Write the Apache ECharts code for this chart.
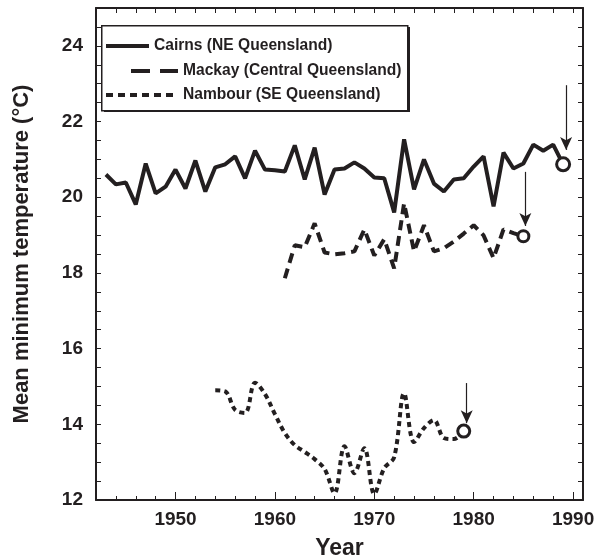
<!DOCTYPE html>
<html>
<head>
<meta charset="utf-8">
<script src="https://cdn.jsdelivr.net/npm/echarts@6/dist/echarts.min.js"></script>
<style>
  html, body { margin: 0; padding: 0; background: #fff; }
  #chart { width: 608px; height: 560px; }
</style>
</head>
<body>
<div id="chart"></div>
<script>
// 各站年平均最低氣溫
const cairnsYears = Array.from({ length: 47 }, (_, i) => 1943 + i)
const cairnsTemp = [20.60, 20.34, 20.39, 19.81, 20.89, 20.10, 20.28, 20.73, 20.23, 20.97,
  20.15, 20.79, 20.87, 21.08, 20.50, 21.23, 20.73, 20.71, 20.68, 21.37,
  20.47, 21.31, 20.07, 20.73, 20.76, 20.92, 20.76, 20.52, 20.50, 19.60,
  21.53, 20.21, 21.00, 20.36, 20.15, 20.47, 20.50, 20.81, 21.08, 19.76,
  21.18, 20.76, 20.89, 21.39, 21.23, 21.39, 20.87]

const mackayYears = Array.from({ length: 25 }, (_, i) => 1961 + i)
const mackayTemp = [17.86, 18.73, 18.68, 19.31, 18.54, 18.49, 18.52, 18.57, 19.15, 18.46,
  18.89, 18.12, 19.84, 18.57, 19.26, 18.57, 18.65, 18.83, 19.04, 19.26,
  18.99, 18.39, 19.15, 19.05, 18.97]

const nambourYears = Array.from({ length: 26 }, (_, i) => 1954 + i)
const nambourTemp = [14.90, 14.87, 14.38, 14.30, 15.10, 14.80, 14.27, 13.77, 13.45, 13.27,
  13.08, 12.82, 12.18, 13.42, 12.71, 13.37, 12.16, 12.84, 13.13, 14.82,
  13.53, 13.90, 14.11, 13.64, 13.61, 13.82]

const seriesNames = ['Cairns (NE Queensland)', 'Mackay (Central Queensland)', 'Nambour (SE Queensland)']

// 軸刻度
const decadeTicks = [1950, 1960, 1970, 1980, 1990]
const evenYearTicks = Array.from({ length: 25 }, (_, i) => 1942 + i * 2)
const tempLabels = [12, 14, 16, 18, 20, 22, 24]

// 指向最後一點的箭頭（年份, 起點溫度, 箭頭尖端溫度）
const arrowX = [1989.3, 1985.2, 1979.3]
const arrowTop = [22.96, 20.67, 15.09]
const arrowTip = [21.25, 19.24, 14.03]

const ink = '#231f20'
const font = '"Liberation Sans", Arial, sans-serif'
const dashTypes = ['solid', [10, 6], [5, 4]]

// 圖例每列的位置（各列圖示長度不同）
const legendLeft = [104, 129, 104]
const legendTop = [38, 63, 87]
const legendIconW = [43, 47, 72]
const legendDash = ['solid', [19, 10], [7, 5]]

const pairs = (xs, ys) => xs.map((x, i) => [x, ys[i]])

const arrowLine = (k) => ({
  silent: true,
  animation: false,
  symbol: ['none', 'arrow'],
  symbolSize: 12,
  label: { show: false },
  itemStyle: { color: ink },
  lineStyle: { type: 'solid', width: 1.2, color: ink },
  data: [[
    { coord: [arrowX[k], arrowTop[k]], symbol: 'none' },
    { coord: [arrowX[k], arrowTip[k]], symbol: 'arrow', symbolSize: [9, 13] },
  ]],
})

const endCircle = (xs, ys, size) => ({
  silent: true,
  animation: false,
  symbol: 'circle',
  symbolSize: size,
  label: { show: false },
  itemStyle: { color: '#fff', borderColor: ink, borderWidth: 3 },
  data: [{ coord: [xs[xs.length - 1], ys[ys.length - 1]] }],
})

const myChart = echarts.init(document.getElementById('chart'))

const option = {
  animation: false,
  backgroundColor: '#fff',
  grid: { left: 96, right: 25, top: 8, bottom: 60, outerBoundsMode: 'none', containLabel: false },
  // 圖例外框（含右下陰影）
  graphic: [
    {
      type: 'rect',
      left: 104,
      top: 27,
      z: 0,
      shape: { width: 306, height: 85 },
      style: { fill: ink },
    },
    {
      type: 'rect',
      left: 101,
      top: 25,
      z: 1,
      shape: { width: 306, height: 85 },
      style: { fill: '#fff', stroke: ink, lineWidth: 1.5 },
    },
  ],
  legend: seriesNames.map((name, k) => ({
    orient: 'horizontal',
    left: legendLeft[k],
    top: legendTop[k],
    data: [name],
    selectedMode: false,
    padding: 0,
    z: 10,
    itemWidth: legendIconW[k],
    itemHeight: 14,
    itemStyle: { opacity: 0 },
    lineStyle: { width: 4, type: legendDash[k], color: ink },
    textStyle: { fontFamily: font, fontWeight: 'bold', fontSize: 15.6, color: ink },
  })),
  xAxis: [
    {
      type: 'value',
      min: 1942,
      max: 1991,
      position: 'bottom',
      name: 'Year',
      nameLocation: 'middle',
      nameGap: 37,
      nameTextStyle: { fontFamily: font, fontWeight: 'bold', fontSize: 23, color: ink },
      axisLine: { show: true, lineStyle: { color: ink, width: 2 } },
      axisTick: { show: true, inside: true, length: 8, customValues: decadeTicks, lineStyle: { color: ink, width: 1 } },
      axisLabel: {
        customValues: decadeTicks,
        margin: 10,
        fontFamily: font,
        fontWeight: 'bold',
        fontSize: 19,
        color: ink,
        formatter: (v) => String(v),
      },
      splitLine: { show: false },
    },
    {
      type: 'value',
      min: 1942,
      max: 1991,
      position: 'bottom',
      axisLine: { show: false },
      axisTick: { show: true, inside: true, length: 4, customValues: evenYearTicks, lineStyle: { color: ink, width: 1 } },
      axisLabel: { show: false },
      splitLine: { show: false },
    },
    {
      type: 'value',
      min: 1942,
      max: 1991,
      position: 'top',
      axisLine: { show: true, lineStyle: { color: ink, width: 2 } },
      axisTick: { show: true, inside: true, length: 5, customValues: evenYearTicks, lineStyle: { color: ink, width: 1 } },
      axisLabel: { show: false },
      splitLine: { show: false },
    },
  ],
  yAxis: [
    {
      type: 'value',
      min: 12,
      max: 25,
      interval: 0.5,
      position: 'left',
      name: 'Mean minimum temperature (°C)',
      nameLocation: 'middle',
      nameGap: 63,
      nameRotate: 90,
      nameTextStyle: { fontFamily: font, fontWeight: 'bold', fontSize: 22, color: ink },
      axisLine: { show: true, lineStyle: { color: ink, width: 2 } },
      axisTick: { show: true, inside: true, length: 5, lineStyle: { color: ink, width: 1 } },
      axisLabel: {
        margin: 13,
        fontFamily: font,
        fontWeight: 'bold',
        fontSize: 19,
        color: ink,
        formatter: (v) => (tempLabels.includes(v) ? String(v) : ''),
      },
      splitLine: { show: false },
    },
    {
      type: 'value',
      min: 12,
      max: 25,
      interval: 0.5,
      position: 'right',
      axisLine: { show: true, lineStyle: { color: ink, width: 2 } },
      axisTick: { show: true, inside: true, length: 5, lineStyle: { color: ink, width: 1 } },
      axisLabel: { show: false },
      splitLine: { show: false },
    },
  ],
  series: [
    {
      name: seriesNames[0],
      type: 'line',
      xAxisIndex: 0,
      yAxisIndex: 0,
      data: pairs(cairnsYears, cairnsTemp),
      symbol: 'none',
      color: ink,
      lineStyle: { color: ink, width: 4, type: dashTypes[0] },
      markLine: arrowLine(0),
      markPoint: endCircle(cairnsYears, cairnsTemp, 13),
      z: 3,
    },
    {
      name: seriesNames[1],
      type: 'line',
      xAxisIndex: 0,
      yAxisIndex: 0,
      data: pairs(mackayYears, mackayTemp),
      symbol: 'none',
      color: ink,
      lineStyle: { color: ink, width: 4, type: dashTypes[1] },
      markLine: arrowLine(1),
      markPoint: endCircle(mackayYears, mackayTemp, 11),
      z: 3,
    },
    {
      name: seriesNames[2],
      type: 'line',
      xAxisIndex: 0,
      yAxisIndex: 0,
      data: pairs(nambourYears, nambourTemp),
      symbol: 'none',
      smooth: 0.35,
      color: ink,
      lineStyle: { color: ink, width: 4, type: dashTypes[2] },
      markLine: arrowLine(2),
      markPoint: endCircle(nambourYears, nambourTemp, 12),
      z: 3,
    },
  ],
}

myChart.setOption(option, true)
</script>
</body>
</html>
